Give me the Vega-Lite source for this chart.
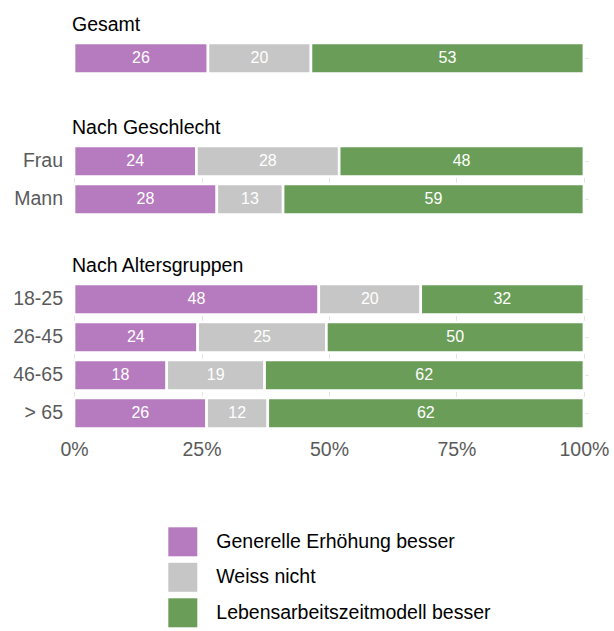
{
  "$schema": "https://vega.github.io/schema/vega-lite/v6.json",
  "padding": {"left": 12, "top": 14, "right": 5, "bottom": 5},
  "background": "white",
  "datasets": {
    "d": [
      {"group": "Gesamt", "cat": "Gesamt", "answer": "Generelle Erhöhung besser", "value": 26},
      {"group": "Gesamt", "cat": "Gesamt", "answer": "Weiss nicht", "value": 20},
      {"group": "Gesamt", "cat": "Gesamt", "answer": "Lebensarbeitszeitmodell besser", "value": 53},
      {"group": "Geschlecht", "cat": "Frau", "answer": "Generelle Erhöhung besser", "value": 24},
      {"group": "Geschlecht", "cat": "Frau", "answer": "Weiss nicht", "value": 28},
      {"group": "Geschlecht", "cat": "Frau", "answer": "Lebensarbeitszeitmodell besser", "value": 48},
      {"group": "Geschlecht", "cat": "Mann", "answer": "Generelle Erhöhung besser", "value": 28},
      {"group": "Geschlecht", "cat": "Mann", "answer": "Weiss nicht", "value": 13},
      {"group": "Geschlecht", "cat": "Mann", "answer": "Lebensarbeitszeitmodell besser", "value": 59},
      {"group": "Alter", "cat": "18-25", "answer": "Generelle Erhöhung besser", "value": 48},
      {"group": "Alter", "cat": "18-25", "answer": "Weiss nicht", "value": 20},
      {"group": "Alter", "cat": "18-25", "answer": "Lebensarbeitszeitmodell besser", "value": 32},
      {"group": "Alter", "cat": "26-45", "answer": "Generelle Erhöhung besser", "value": 24},
      {"group": "Alter", "cat": "26-45", "answer": "Weiss nicht", "value": 25},
      {"group": "Alter", "cat": "26-45", "answer": "Lebensarbeitszeitmodell besser", "value": 50},
      {"group": "Alter", "cat": "46-65", "answer": "Generelle Erhöhung besser", "value": 18},
      {"group": "Alter", "cat": "46-65", "answer": "Weiss nicht", "value": 19},
      {"group": "Alter", "cat": "46-65", "answer": "Lebensarbeitszeitmodell besser", "value": 62},
      {"group": "Alter", "cat": "> 65", "answer": "Generelle Erhöhung besser", "value": 26},
      {"group": "Alter", "cat": "> 65", "answer": "Weiss nicht", "value": 12},
      {"group": "Alter", "cat": "> 65", "answer": "Lebensarbeitszeitmodell besser", "value": 62}
    ]
  },
  "config": {
    "view": {"stroke": null},
    "font": "Liberation Sans",
    "title": {"anchor": "start", "frame": "group", "fontSize": 19.5, "fontWeight": "normal", "color": "#000000", "baseline": "alphabetic", "offset": 6.7},
    "axis": {"gridColor": "#E3E3E3", "gridWidth": 1, "domain": false, "ticks": false, "tickSize": 0, "labelFontSize": 19.5, "labelColor": "#5A5A5A", "labelFont": "Liberation Sans"},
    "legend": {"labelFontSize": 19.5, "labelColor": "#000000", "labelFont": "Liberation Sans", "labelLimit": 500}
  },
  "spacing": 39,
  "vconcat": [
    {
      "spacing": 42,
      "vconcat": [
        {
          "title": {"text": "Gesamt", "fontWeight": "normal"},
          "width": 516,
          "height": 30.6,
          "data": {"name": "d"},
          "transform": [
            {"filter": "datum.group === 'Gesamt'"},
            {"calculate": "indexof(['Generelle Erhöhung besser','Weiss nicht','Lebensarbeitszeitmodell besser'], datum.answer)", "as": "ord"},
            {"stack": "value", "groupby": ["cat"], "sort": [{"field": "ord", "order": "ascending"}], "offset": "normalize", "as": ["x0", "x1"]},
            {"calculate": "(datum.x0 + datum.x1) / 2", "as": "xm"}
          ],
          "encoding": {
            "y": {"field": "cat", "type": "nominal", "sort": null, "title": null, "scale": {"paddingInner": 0.195, "paddingOuter": 0}, "axis": {"labels": false, "grid": true}},
            "x": {"field": "x0", "type": "quantitative", "title": null, "scale": {"domain": [-0.004, 1.008], "nice": false, "zero": false}, "axis": {"labels": false, "grid": true, "values": [0, 0.25, 0.5, 0.75, 1]}}
          },
          "layer": [
            {
              "mark": {"type": "bar", "stroke": "white", "strokeWidth": 2.6},
              "encoding": {
                "x2": {"field": "x1"},
                "color": {"field": "answer", "type": "nominal", "title": null,
                  "scale": {"domain": ["Generelle Erhöhung besser", "Weiss nicht", "Lebensarbeitszeitmodell besser"], "range": ["#B57BBE", "#C6C6C6", "#6A9E58"]},
                  "legend": {"orient": "none", "legendX": 96.3, "legendY": 484.3, "direction": "vertical", "symbolType": "square", "symbolSize": 841, "symbolStrokeWidth": 0, "symbolOpacity": 1, "labelOffset": 19, "rowPadding": 6.5, "padding": 0, "labelLimit": 500}}
              }
            },
            {
              "mark": {"type": "text", "color": "white", "fontSize": 16, "baseline": "middle", "align": "center"},
              "encoding": {"x": {"field": "xm", "type": "quantitative"}, "text": {"field": "value", "type": "quantitative"}}
            }
          ]
        },
        {
          "title": {"text": "Nach Geschlecht", "fontWeight": "normal"},
          "width": 516,
          "height": 68.6,
          "data": {"name": "d"},
          "transform": [
            {"filter": "datum.group === 'Geschlecht'"},
            {"calculate": "indexof(['Generelle Erhöhung besser','Weiss nicht','Lebensarbeitszeitmodell besser'], datum.answer)", "as": "ord"},
            {"stack": "value", "groupby": ["cat"], "sort": [{"field": "ord", "order": "ascending"}], "offset": "normalize", "as": ["x0", "x1"]},
            {"calculate": "(datum.x0 + datum.x1) / 2", "as": "xm"}
          ],
          "encoding": {
            "y": {"field": "cat", "type": "nominal", "sort": ["Frau", "Mann"], "title": null, "scale": {"paddingInner": 0.195, "paddingOuter": 0}, "axis": {"grid": true, "labelPadding": 9.5}},
            "x": {"field": "x0", "type": "quantitative", "title": null, "scale": {"domain": [-0.004, 1.008], "nice": false, "zero": false}, "axis": {"labels": false, "grid": true, "values": [0, 0.25, 0.5, 0.75, 1]}}
          },
          "layer": [
            {
              "mark": {"type": "bar", "stroke": "white", "strokeWidth": 2.6},
              "encoding": {
                "x2": {"field": "x1"},
                "color": {"field": "answer", "type": "nominal", "title": null}
              }
            },
            {
              "mark": {"type": "text", "color": "white", "fontSize": 16, "baseline": "middle", "align": "center"},
              "encoding": {"x": {"field": "xm", "type": "quantitative"}, "text": {"field": "value", "type": "quantitative"}}
            }
          ]
        }
      ]
    },
    {
      "title": {"text": "Nach Altersgruppen", "fontWeight": "normal"},
      "width": 516,
      "height": 144.6,
      "data": {"name": "d"},
      "transform": [
        {"filter": "datum.group === 'Alter'"},
        {"calculate": "indexof(['Generelle Erhöhung besser','Weiss nicht','Lebensarbeitszeitmodell besser'], datum.answer)", "as": "ord"},
        {"stack": "value", "groupby": ["cat"], "sort": [{"field": "ord", "order": "ascending"}], "offset": "normalize", "as": ["x0", "x1"]},
        {"calculate": "(datum.x0 + datum.x1) / 2", "as": "xm"}
      ],
      "encoding": {
        "y": {"field": "cat", "type": "nominal", "sort": ["18-25", "26-45", "46-65", "> 65"], "title": null, "scale": {"paddingInner": 0.195, "paddingOuter": 0}, "axis": {"grid": true, "labelPadding": 9.5}},
        "x": {"field": "x0", "type": "quantitative", "title": null, "scale": {"domain": [-0.004, 1.008], "nice": false, "zero": false}, "axis": {"grid": true, "values": [0, 0.25, 0.5, 0.75, 1], "format": ".0%", "labelPadding": 12}}
      },
      "layer": [
        {
          "mark": {"type": "bar", "stroke": "white", "strokeWidth": 2.6},
          "encoding": {
            "x2": {"field": "x1"},
            "color": {"field": "answer", "type": "nominal", "title": null}
          }
        },
        {
          "mark": {"type": "text", "color": "white", "fontSize": 16, "baseline": "middle", "align": "center"},
          "encoding": {"x": {"field": "xm", "type": "quantitative"}, "text": {"field": "value", "type": "quantitative"}}
        }
      ]
    }
  ]
}
